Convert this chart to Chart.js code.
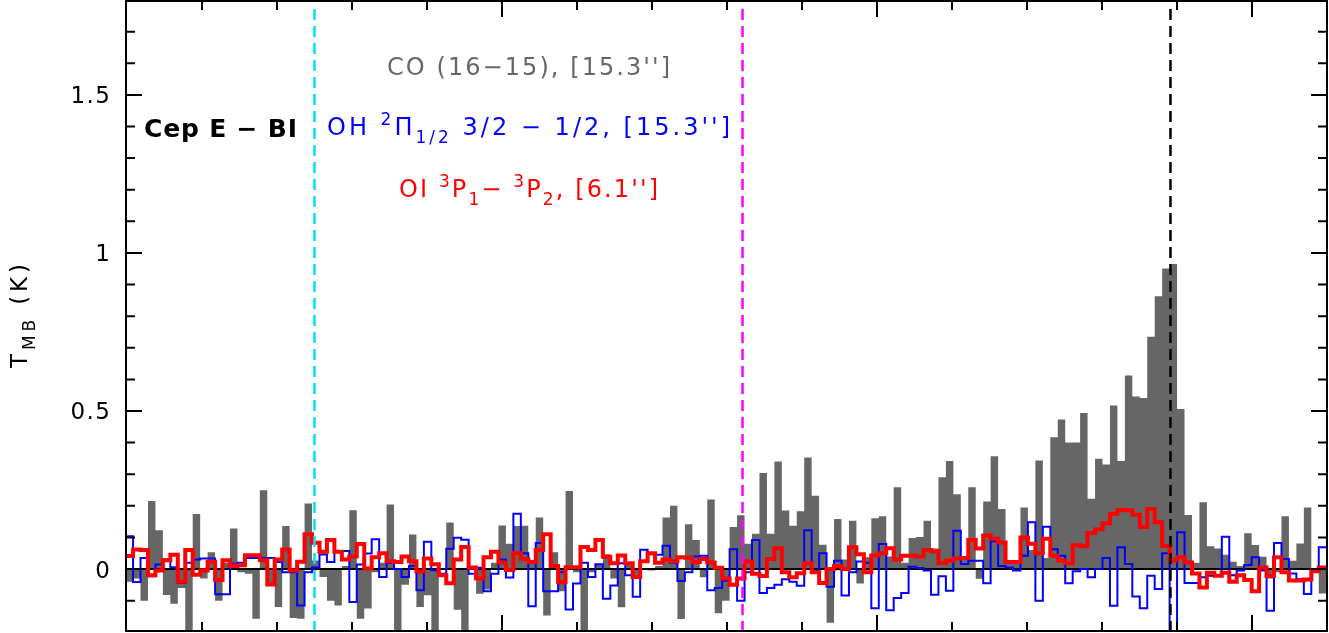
<!DOCTYPE html>
<html><head><meta charset="utf-8">
<script src="https://cdn.jsdelivr.net/npm/chart.js@4/dist/chart.umd.min.js"></script>
<style>html,body{margin:0;padding:0;background:#fff;overflow:hidden}#wrap{width:1329px;height:633px}</style>
</head><body><div id="wrap"><canvas id="c" width="1329" height="633"></canvas></div>
<script>
// spectral axis: channel left edge of first channel and channel width (axis units)
const chanStart = -0.187;
const chanWidth = 0.9943;

// CO (16-15) spectrum, T_MB (K) per channel
const coValues = [
 -0.04,-0.03,-0.10,0.215,0.123,-0.082,-0.11,-0.06,-0.21,0.174,
 -0.03,0.053,-0.10,0.02,0.128,-0.01,-0.015,-0.157,0.249,-0.046,
 -0.12,0.136,-0.155,-0.157,0.207,0.027,-0.025,-0.10,-0.115,0.01,
 0.186,-0.157,-0.125,-0.01,0.02,0.204,-0.21,-0.05,0.109,-0.12,
 -0.083,-0.21,0.0,0.147,-0.129,-0.21,0.0,-0.078,-0.065,0.02,
 0.138,0.08,0.136,0.137,0.02,0.163,-0.147,0.053,-0.07,0.247,
 -0.01,-0.21,-0.01,0.016,0.047,-0.03,-0.121,0.015,-0.03,0.0,
 -0.005,0.01,0.163,0.2,-0.158,0.142,0.092,-0.026,0.22,-0.14,
 -0.10,0.133,0.17,0.08,0.112,0.304,0.112,0.34,0.185,0.137,
 0.183,0.353,0.232,0.077,-0.17,0.158,0.03,0.153,-0.046,0.037,
 0.161,0.167,0.04,0.259,0.02,0.098,0.101,0.153,0.065,0.29,
 0.342,0.237,0.04,0.259,-0.031,0.214,0.357,0.19,0.02,0.025,
 0.195,0.06,0.343,0.035,0.417,0.473,0.4,0.4,0.494,0.222,
 0.349,0.331,0.517,0.342,0.612,0.546,0.541,0.735,0.863,0.951,
 0.965,0.506,0.171,0.02,0.211,0.072,0.065,0.045,0.023,0.01,
 0.113,0.076,0.039,-0.03,-0.01,0.167,0.026,0.081,0.195,-0.005,
 -0.077
];

// OH 2Pi1/2 3/2-1/2 spectrum
const ohValues = [
 0.104,-0.041,0.035,-0.023,0.014,0.03,0.006,-0.044,0.02,0.03,
 0.033,0.033,-0.08,-0.08,0.017,0.02,0.035,0.035,0.035,0.035,
 0.022,-0.01,-0.01,-0.115,-0.01,0.005,0.046,0.022,0.057,0.057,
 -0.104,0.014,0.049,0.094,-0.025,0.019,0.0,-0.025,0.01,-0.067,
 0.086,-0.004,-0.015,0.064,0.099,0.093,-0.015,0.004,-0.07,-0.015,
 0.03,-0.027,0.175,0.05,-0.118,0.082,-0.07,-0.07,-0.01,-0.128,
 -0.046,0.02,-0.025,0.015,-0.094,-0.052,0.018,-0.02,-0.088,0.061,
 0.047,0.045,0.074,0.02,-0.038,-0.01,0.04,0.042,-0.067,-0.06,
 -0.037,0.063,-0.1,-0.01,0.092,-0.076,-0.06,-0.05,-0.032,-0.04,
 -0.053,0.123,-0.005,0.05,-0.056,0.026,-0.084,-0.01,0.024,0.02,
 -0.124,0.079,-0.13,-0.092,-0.076,0.007,0.003,-0.005,-0.081,-0.023,
 -0.069,0.121,0.016,0.026,0.026,-0.045,0.088,0.01,0.005,-0.005,
 0.042,0.148,-0.1,0.134,0.063,0.042,-0.045,-0.007,0.0,-0.026,
 0.0,0.035,-0.116,0.069,0.016,-0.087,-0.124,-0.021,-0.063,0.05,
 -0.2,0.116,-0.044,-0.044,-0.026,-0.021,-0.021,0.102,-0.02,-0.005,
 0.013,0.037,-0.005,-0.132,0.082,0.032,-0.014,-0.032,-0.079,0.0,
 0.069
];

// OI 3P1-3P2 spectrum
const oiValues = [
 0.041,0.062,0.06,-0.02,-0.005,0.028,0.045,-0.04,0.06,-0.018,
 -0.005,0.023,-0.035,0.028,0.01,0.012,0.044,0.044,0.028,-0.049,
 0.03,0.062,-0.005,0.023,0.11,0.083,0.055,0.092,0.055,0.03,
 0.04,0.079,0.002,0.037,0.05,0.025,0.022,0.04,0.025,-0.008,
 0.033,0.015,-0.02,-0.045,0.03,0.07,0.005,-0.03,0.037,0.055,
 0.02,-0.003,0.05,0.032,0.022,0.06,0.11,0.01,-0.042,0.006,
 0.006,0.07,0.06,0.092,0.039,0.018,0.043,0.018,-0.025,0.025,
 0.05,0.02,0.03,0.025,0.037,0.036,0.022,0.032,0.021,0.004,
 -0.03,-0.05,-0.03,0.024,-0.015,-0.022,0.032,0.066,-0.01,-0.026,
 -0.013,0.018,-0.01,-0.044,0.0,0.01,0.0,0.069,0.047,-0.01,
 0.043,0.05,0.066,0.03,0.042,0.042,0.04,0.06,0.056,0.019,
 0.027,0.033,0.035,0.092,0.065,0.106,0.096,0.084,0.022,0.022,
 0.1,0.08,0.05,0.096,0.042,0.027,0.018,0.075,0.072,0.114,
 0.125,0.145,0.175,0.187,0.186,0.172,0.133,0.19,0.148,0.073,
 0.028,0.037,0.021,-0.014,-0.058,-0.012,-0.021,-0.012,-0.04,-0.02,
 -0.035,-0.07,0.005,-0.022,0.037,-0.01,-0.036,-0.036,-0.033,-0.007,
 0.005
];

// axis ticks and labels
const yTickValues = [-0.1,0,0.1,0.2,0.3,0.4,0.5,0.6,0.7,0.8,0.9,1.0,1.1,1.2,1.3,1.4,1.5,1.6,1.7];
const yMajorValues = [0, 0.5, 1, 1.5];
const yTickLabels = ['0', '0.5', '1', '1.5'];
const xTickValues = [10,20,30,40,50,60,70,80,90,100,110,120,130,140,150];
const xMajorValues = [50,100,150];
// vertical reference velocities
const refLineX = [25.0, 82.07, 139.13];
const refLineColors = ['#00e4f0', '#ff00ff', '#000000'];

const X_MIN = -0.133, X_MAX = 160, Y_MIN = -0.196, Y_MAX = 1.797;
const FONT = '"DejaVu Sans", "Liberation Sans", Arial, sans-serif';

function steps(vals) {
  const pts = vals.map((v, i) => ({x: chanStart + i * chanWidth, y: v}));
  pts.push({x: chanStart + vals.length * chanWidth, y: vals[vals.length - 1]});
  return pts;
}

function richWidth(ctx, segs, size, weight) {
  let w = 0, n = 0;
  for (const [t, k] of segs) {
    ctx.font = weight + ' ' + (k === 'n' ? size : Math.round(size * 0.72)) + 'px ' + FONT;
    for (const ch of t) { w += ctx.measureText(ch).width; n++; }
  }
  return {w, n};
}
function drawRich(ctx, segs, x0, y0, targetW, size, weight, color) {
  const {w, n} = richWidth(ctx, segs, size, weight);
  const ls = targetW ? (targetW - w) / (n - 1) : 0;
  let x = x0;
  ctx.fillStyle = color; ctx.textAlign = 'left'; ctx.textBaseline = 'alphabetic';
  for (const [t, k] of segs) {
    const fs = k === 'n' ? size : Math.round(size * 0.72);
    ctx.font = weight + ' ' + fs + 'px ' + FONT;
    const dy = k === 'sup' ? -size * 0.42 : (k === 'sub' ? size * 0.33 : 0);
    for (const ch of t) { ctx.fillText(ch, x, y0 + dy); x += ctx.measureText(ch).width + ls; }
  }
}

const decor = {
  id: 'decor',
  afterDatasetDraw(chart, args) {
    if (args.index !== 2) return; // after CO fill: zero line
    const {ctx, chartArea: a, scales: {y}} = chart;
    const py = y.getPixelForValue(0);
    ctx.save(); ctx.strokeStyle = '#000'; ctx.lineWidth = 2;
    ctx.beginPath(); ctx.moveTo(a.left, py); ctx.lineTo(a.right, py); ctx.stroke(); ctx.restore();
  },
  afterDatasetsDraw(chart) {
    const {ctx, chartArea: a, scales: {x}} = chart;
    ctx.save(); ctx.lineWidth = 2.5; ctx.setLineDash([11, 6]);
    refLineX.forEach((v, i) => {
      const px = x.getPixelForValue(v);
      ctx.strokeStyle = refLineColors[i];
      ctx.beginPath(); ctx.moveTo(px, a.top + 8); ctx.lineTo(px, a.bottom); ctx.stroke();
    });
    ctx.restore();
  },
  afterDraw(chart) {
    const {ctx, chartArea: a, scales: {x, y}} = chart;
    ctx.save();
    ctx.strokeStyle = '#000'; ctx.lineWidth = 2;
    ctx.strokeRect(a.left, a.top, a.right - a.left, a.bottom - a.top);
    ctx.beginPath();
    yTickValues.forEach(v => {
      const py = y.getPixelForValue(v);
      const len = yMajorValues.some(m => Math.abs(m - v) < 1e-6) ? 16 : 9;
      ctx.moveTo(a.left, py); ctx.lineTo(a.left + len, py);
      ctx.moveTo(a.right, py); ctx.lineTo(a.right - len, py);
    });
    xTickValues.forEach(v => {
      const px = x.getPixelForValue(v);
      const len = xMajorValues.includes(v) ? 16 : 9;
      ctx.moveTo(px, a.bottom); ctx.lineTo(px, a.bottom - len);
      ctx.moveTo(px, a.top); ctx.lineTo(px, a.top + len);
    });
    ctx.stroke();
    // y tick labels
    yMajorValues.forEach((v, i) => {
      const segs = [[yTickLabels[i], 'n']];
      const {w, n} = richWidth(ctx, segs, 23, 'normal');
      const tw = w + (n - 1) * 1.5;
      drawRich(ctx, segs, 110 - tw, y.getPixelForValue(v) + 8.5, n > 1 ? tw : 0, 23, 'normal', '#000');
    });
    // y axis title
    ctx.save();
    ctx.translate(27, 368); ctx.rotate(-Math.PI / 2);
    drawRich(ctx, [['T', 'n'], ['MB', 'sub'], [' (K)', 'n']], 0, 0, 104, 23, 'normal', '#000');
    ctx.restore();
    // annotations
    drawRich(ctx, [['CO (16−15), [15.3\'\']', 'n']], 387, 75, 283, 24, 'normal', '#666666');
    drawRich(ctx, [['Cep E − BI', 'n']], 144, 137, 153, 25, 'bold', '#000000');
    drawRich(ctx, [['OH ', 'n'], ['2', 'sup'], ['Π', 'n'], ['1/2', 'sub'], [' 3/2 − 1/2, [15.3\'\']', 'n']], 327, 135, 403, 24, 'normal', '#0000ff');
    drawRich(ctx, [['OI ', 'n'], ['3', 'sup'], ['P', 'n'], ['1', 'sub'], ['− ', 'n'], ['3', 'sup'], ['P', 'n'], ['2', 'sub'], [', [6.1\'\']', 'n']], 399, 197, 259, 24, 'normal', '#ff0000');
    ctx.restore();
  }
};

new Chart(document.getElementById('c'), {
  type: 'line',
  data: {
    datasets: [
      {label: 'OI', data: steps(oiValues), stepped: 'before', borderColor: '#ff0000', borderWidth: 4,
       pointRadius: 0, fill: false, order: 0, borderJoinStyle: 'miter'},
      {label: 'OH', data: steps(ohValues), stepped: 'before', borderColor: '#0000ff', borderWidth: 2,
       pointRadius: 0, fill: false, order: 1, borderJoinStyle: 'miter'},
      {label: 'CO', data: steps(coValues), stepped: 'before', borderColor: '#666666', borderWidth: 0,
       backgroundColor: '#666666', pointRadius: 0, fill: 'origin', order: 2}
    ]
  },
  options: {
    responsive: false, animation: false, events: [],
    layout: {padding: {top: 1, right: 2, bottom: 2, left: 0}},
    plugins: {legend: {display: false}, tooltip: {enabled: false}},
    scales: {
      x: {type: 'linear', min: X_MIN, max: X_MAX, grid: {display: false}, border: {display: false},
          ticks: {display: false}, afterFit(s) { s.height = 0; }},
      y: {type: 'linear', min: Y_MIN, max: Y_MAX, grid: {display: false}, border: {display: false},
          ticks: {display: false}, afterFit(s) { s.width = 126; }}
    }
  },
  plugins: [decor]
});
</script></body></html>
